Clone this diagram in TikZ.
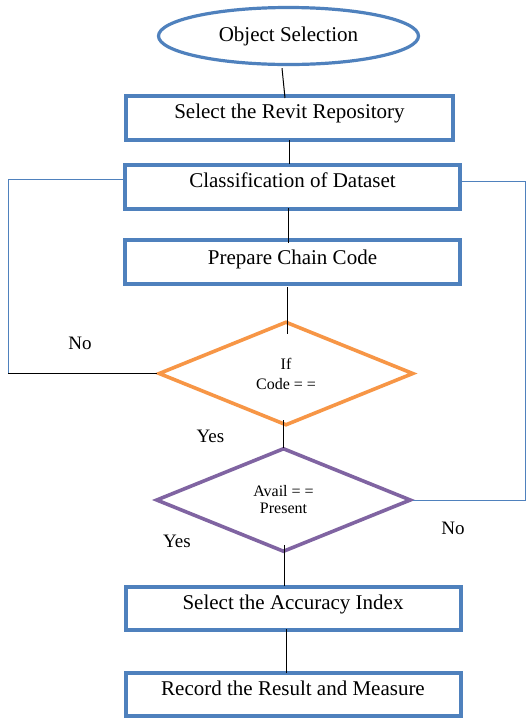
\documentclass[tikz,border=0pt]{standalone}
\usepackage{fontspec}
\setmainfont{Liberation Serif}
\usetikzlibrary{shapes.geometric,calc}
\definecolor{boxblue}{RGB}{79,129,189}
\definecolor{decorange}{RGB}{247,150,70}
\definecolor{decpurple}{RGB}{128,100,162}
\tikzset{
  stepbox/.style={rectangle, draw=boxblue, line width=4pt, minimum width=335pt,
    minimum height=44pt, inner sep=0pt, text height=14pt, text depth=#1,
    font=\fontsize{21}{25}\selectfont},
  stepbox/.default=13pt,
  startnode/.style={ellipse, draw=boxblue, line width=3.2pt, minimum width=260pt,
    minimum height=57pt, inner sep=0pt, font=\fontsize{21}{25}\selectfont},
  decision/.style={diamond, line width=3.6pt, minimum width=255pt,
    minimum height=104pt, inner sep=0pt, align=center},
  conn/.style={draw=black, line width=1pt},
  loopline/.style={draw=boxblue, line width=1pt},
  lbl/.style={inner sep=0pt, font=\fontsize{19}{22}\selectfont}
}
\begin{document}
\begin{tikzpicture}[x=1pt,y=-1pt]

% canvas
\fill[white] (0,0) rectangle (531,724);
\useasboundingbox (0,0) rectangle (531,724);

% process steps
\node[startnode] (start) at (288.5,36) {Object Selection};
\node[stepbox, minimum width=327pt] (b1) at (289.5,118) {Select the Revit Repository};
\node[stepbox] (b2) at (292.5,187) {Classification of Dataset};
\node[stepbox=9pt] (b3) at (292.5,262) {Prepare Chain Code};
\node[stepbox, minimum height=43pt] (b4) at (293,608.5) {Select the Accuracy Index};
\node[stepbox, minimum height=43pt] (b5) at (293,694.5) {Record the Result and Measure};

% decisions
\node[decision, draw=decorange, font=\fontsize{16}{20}\selectfont] (d1) at (286,373.5) {If\\Code = =};
\node[decision, draw=decpurple, font=\fontsize{16}{17}\selectfont] (d2) at (283.5,500) {Avail = =\\Present};

% branch labels
\node[lbl] (no1) at (80,343) {No};
\node[lbl] (yes1) at (210.5,436) {Yes};
\node[lbl] (yes2) at (177,541) {Yes};
\node[lbl] (no2) at (453,528) {No};

% main flow
\draw[conn] ($(start.south)+(-6.5,2)$) -- ($(b1.north)+(-4.5,4)$);
\draw[conn] ($(b1.south)+(-0.5,-2)$) -- ($(b2.north)+(-3.5,1)$);
\draw[conn] ($(b2.south)+(-4.5,-3)$) -- ($(b3.north)+(-4.5,5)$);
\draw[conn] ($(b3.south)+(-5.5,1)$) -- ($(d1.north)+(1,14)$);
\draw[conn] ($(d1.south)+(-3,-7)$) -- ($(d2.north)+(-0.5,2)$);
\draw[conn] ($(d2.south)+(0.5,-9)$) -- ($(b4.north)+(-9,1)$);
\draw[conn] ($(b4.south)+(-7,-3)$) -- ($(b5.north)+(-7,2)$);

% feedback loops
\coordinate (lcorner) at (8,373.5);
\coordinate (rcorner) at (525,500);
\draw[loopline] ($(b2.west)+(0,-8)$) -| (lcorner);
\draw[conn] (lcorner) -- (d1.west);
\draw[loopline] ($(b2.east)+(0,-6)$) -| (rcorner) -- (d2.east);
\end{tikzpicture}
\end{document}
